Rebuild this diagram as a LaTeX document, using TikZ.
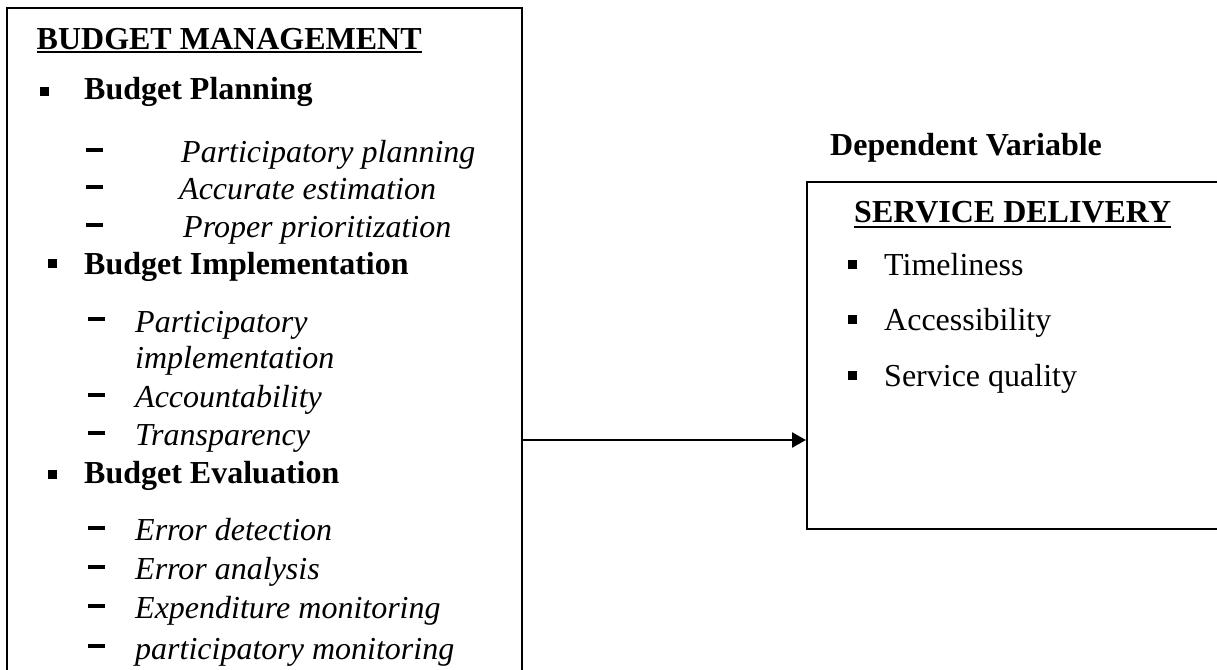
\documentclass[tikz,border=0pt]{standalone}
\usepackage{fontspec}
\setmainfont{Liberation Serif}
\usetikzlibrary{arrows.meta}

\tikzset{
  box/.style={draw, line width=2pt, rectangle, inner sep=0pt},
  txt/.style={anchor=base west, inner sep=0pt, font=\fontsize{32}{38}\selectfont},
  head/.style={txt, font=\fontsize{32}{38}\selectfont\bfseries},
  item/.style={txt, font=\fontsize{32}{38}\selectfont\itshape},
  uline/.style={line width=2.6pt},
  dashmark/.style={line width=4pt},
  arrow/.style={line width=2.2pt, -{Triangle[length=14pt,width=15pt]}}
}

\begin{document}
\begin{tikzpicture}[x=1pt,y=-1pt]
\clip (0,0) rectangle (1217,669);
\fill[white] (0,0) rectangle (1217,669);

% the two boxes
\node[box, anchor=north west, minimum width=515pt, minimum height=720pt] (mgmt) at (6,7) {};
\node[box, anchor=north west, minimum width=600pt, minimum height=347pt] (service) at (806,181) {};

% budget management
\node[head] (bm) at (36.5,49) {BUDGET MANAGEMENT};
\draw[uline] ([yshift=-3pt]bm.base west) -- ([yshift=-3pt]bm.base east);

\fill (40,87) rectangle +(9,9);
\node[head] (plan) at (84,99) {Budget Planning};
\draw[dashmark] (86,150) -- +(17,0);
\node[item] (plan1) at (181,162) {Participatory planning};
\draw[dashmark] (86,187) -- +(17,0);
\node[item] (plan2) at (179,199) {Accurate estimation};
\draw[dashmark] (86,225) -- +(17,0);
\node[item] (plan3) at (183,237) {Proper prioritization};

\fill (48,259) rectangle +(9,9);
\node[head] (impl) at (84,274) {Budget Implementation};
\draw[dashmark] (88,319) -- +(17,0);
\node[item] (impl1) at (135,332) {Participatory};
\node[item] (impl1b) at (135,368) {implementation};
\draw[dashmark] (88,395) -- +(17,0);
\node[item] (impl2) at (135,407) {Accountability};
\draw[dashmark] (88,433) -- +(17,0);
\node[item] (impl3) at (135,445) {Transparency};

\fill (48,470) rectangle +(9,9);
\node[head] (eval) at (84,483) {Budget Evaluation};
\draw[dashmark] (88,528) -- +(17,0);
\node[item] (eval1) at (135,540) {Error detection};
\draw[dashmark] (88,567) -- +(17,0);
\node[item] (eval2) at (135,579) {Error analysis};
\draw[dashmark] (88,606) -- +(17,0);
\node[item] (eval3) at (135,618) {Expenditure monitoring};
\draw[dashmark] (88,646) -- +(17,0);
\node[item] (eval4) at (135,659) {participatory monitoring};

% service delivery
\node[head] (dep) at (830,155) {Dependent Variable};
\node[head] (sd) at (854,222) {SERVICE DELIVERY};
\draw[uline] ([yshift=-5pt]sd.base west) -- ([yshift=-5pt]sd.base east);

\fill (848,260) rectangle +(9,9);
\node[txt] (sd1) at (884,275) {Timeliness};
\fill (848,315) rectangle +(9,9);
\node[txt] (sd2) at (884,330) {Accessibility};
\fill (848,371) rectangle +(9,9);
\node[txt] (sd3) at (884,386) {Service quality};

% link
\coordinate (split) at (521,440);
\draw[arrow] (split) -- (split -| service.west);
\end{tikzpicture}
\end{document}
